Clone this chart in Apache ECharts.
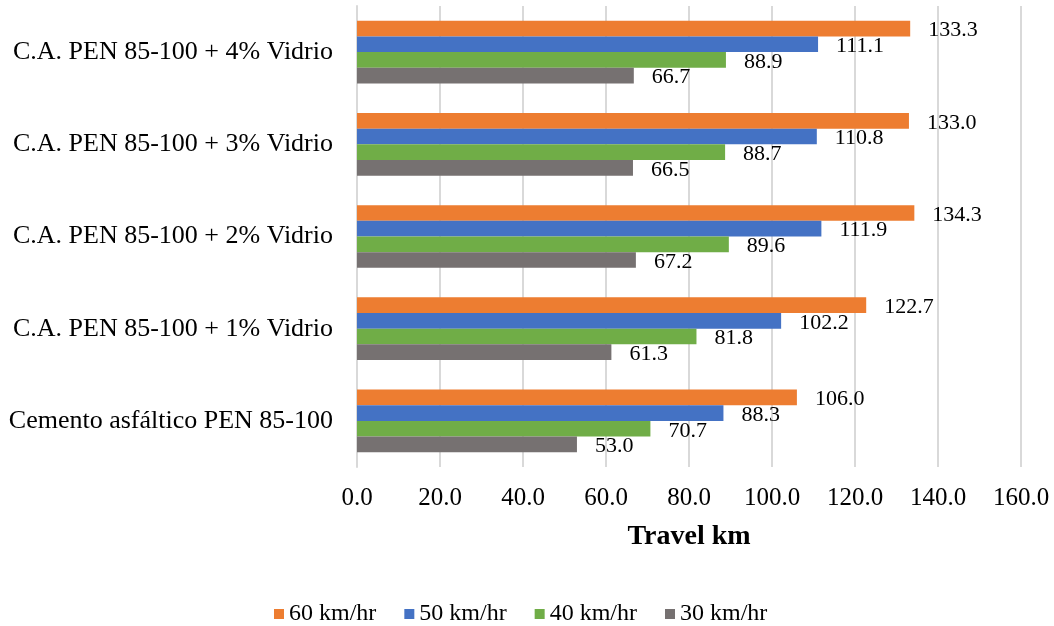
<!DOCTYPE html>
<html>
<head>
<meta charset="utf-8">
<script src="https://cdn.jsdelivr.net/npm/echarts@6/dist/echarts.min.js"></script>
<style>html,body{margin:0;padding:0;background:#fff}#c{width:1054px;height:626px}</style>
</head>
<body>
<div id="c"></div>
<script>
const categories = ['Cemento asfáltico PEN 85-100', 'C.A. PEN 85-100 + 1% Vidrio', 'C.A. PEN 85-100 + 2% Vidrio', 'C.A. PEN 85-100 + 3% Vidrio', 'C.A. PEN 85-100 + 4% Vidrio'];
const s60 = [106.0, 122.7, 134.3, 133.0, 133.3];
const s50 = [88.3, 102.2, 111.9, 110.8, 111.1];
const s40 = [70.7, 81.8, 89.6, 88.7, 88.9];
const s30 = [53.0, 61.3, 67.2, 66.5, 66.7];
const seriesNames = ['60 km/hr', '50 km/hr', '40 km/hr', '30 km/hr'];
const colors = ['#ED7D31', '#4472C4', '#70AD47', '#767171'];
const FONT = '"Liberation Serif", "Times New Roman", serif';

const chart = echarts.init(document.getElementById('c'));
const dataSets = [s60, s50, s40, s30];
chart.setOption({
  animation: false,
  textStyle: { fontFamily: FONT },
  grid: { left: 357, right: 33, top: 6, bottom: 159, containLabel: false },
  legend: {
    data: seriesNames,
    top: 597,
    left: 269,
    itemWidth: 10, itemHeight: 10, itemGap: 28,
    icon: 'rect',
    textStyle: { fontFamily: FONT, fontSize: 24, color: '#000' }
  },
  xAxis: {
    type: 'value', min: 0, max: 160, interval: 20,
    name: 'Travel km', nameLocation: 'middle', nameGap: 56,
    nameTextStyle: { fontFamily: FONT, fontSize: 28, fontWeight: 'bold', color: '#000' },
    axisLine: { show: false }, axisTick: { show: false },
    axisLabel: { margin: 19, fontFamily: FONT, fontSize: 25, color: '#000', formatter: v => v.toFixed(1) },
    splitLine: { lineStyle: { color: '#D9D9D9', width: 2 } }
  },
  yAxis: {
    type: 'category', data: categories,
    axisLine: { show: true, lineStyle: { color: '#D9D9D9', width: 2 } },
    axisTick: { show: false },
    axisLabel: { margin: 24, fontFamily: FONT, fontSize: 26, color: '#000' }
  },
  series: seriesNames.map((n, i) => ({
    name: n, type: 'bar', data: dataSets[i],
    barGap: '0%', barCategoryGap: '32%',
    itemStyle: { color: colors[i] },
    label: { show: true, position: 'right', distance: 18, offset: [0, 2], fontFamily: FONT, fontSize: 22, color: '#000', formatter: p => p.value.toFixed(1) }
  }))
});
</script>
</body>
</html>
